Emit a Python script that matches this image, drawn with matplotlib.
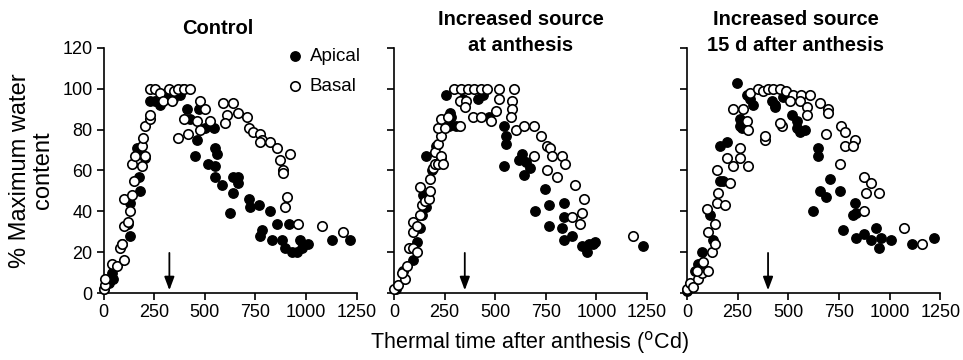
import matplotlib.pyplot as plt

plt.rcParams['font.family'] = ['Liberation Sans', 'DejaVu Sans']

# --- data (thermal time, % max water content) ---
ctrl_apical_x = [0, 25, 49, 40, 90, 132, 123, 132, 181, 173, 164, 189, 205, 230, 255, 280, 289, 320, 345, 354,
                 375, 390, 411, 428, 469, 502, 543, 461, 452, 551, 559, 518, 551, 551, 584, 641, 666, 666, 641, 625,
                 716, 724, 765, 822, 781, 773, 830, 855, 913, 880, 896, 929, 954, 971, 979, 1011, 1127, 1217]
ctrl_apical_y = [2, 5, 7, 10, 24, 28, 34, 44, 50, 57, 71, 68, 66, 94, 94, 92, 97, 97, 95, 99,
                 97, 100, 90, 85, 90, 81, 81, 75, 67, 71, 68, 63, 62, 57, 53, 57, 57, 54, 49, 39,
                 46, 42, 43, 40, 31, 28, 26, 34, 34, 26, 22, 20, 20, 26, 22, 24, 26, 26]
ctrl_basal_x = [0, 8, 8, 41, 66, 99, 82, 90, 99, 123, 99, 132, 140, 148, 140, 156, 189, 206, 189, 197,
                206, 230, 230, 230, 255, 280, 296, 321, 337, 350, 370, 395, 428, 370, 419, 395, 477, 502, 461, 477,
                526, 592, 641, 608, 600, 666, 707, 716, 740, 773, 781, 773, 822, 855, 871, 921, 888, 885, 904, 896,
                962, 1078, 1184]
ctrl_basal_y = [2, 4, 7, 14, 13, 16, 22, 24, 33, 35, 46, 40, 48, 55, 63, 67, 62, 67, 72, 76,
                82, 85, 87, 100, 100, 98, 94, 100, 94, 99, 100, 100, 100, 76, 78, 85, 94, 90, 84, 80,
                84, 93, 93, 87, 83, 88, 86, 81, 79, 78, 75, 74, 74, 71, 65, 68, 60, 59, 47, 42,
                34, 33, 30]

early_apical_x = [10, 95, 115, 128, 137, 145, 161, 161, 190, 210, 235, 259, 276, 283, 274, 307, 340, 413, 438, 471,
                  544, 552, 552, 544, 634, 617, 650, 642, 674, 748, 765, 699, 765, 838, 838, 830, 838, 879, 928, 952,
                  961, 985, 993, 1230]
early_apical_y = [2, 16, 25, 32, 38, 48, 42, 67, 60, 72, 66, 97, 88, 86, 82, 82, 95, 95, 97, 86,
                  82, 77, 73, 62, 68, 65, 64, 58, 61, 51, 43, 40, 33, 44, 37, 32, 26, 28, 23, 20,
                  24, 24, 25, 23]
early_basal_x = [0, 21, 46, 54, 38, 63, 76, 95, 112, 95, 95, 112, 128, 137, 128, 154, 171, 178, 178, 191,
                 202, 219, 202, 235, 243, 219, 235, 219, 235, 252, 326, 268, 299, 332, 364, 397, 430, 462, 520, 593,
                 324, 357, 350, 389, 430, 479, 503, 519, 585, 585, 577, 601, 642, 691, 724, 756, 773, 781, 830, 846,
                 691, 756, 805, 895, 936, 928, 879, 920, 1181]
early_basal_y = [2, 4, 11, 7, 10, 13, 22, 22, 20, 30, 35, 33, 38, 43, 52, 45, 46, 50, 56, 61,
                 63, 63, 69, 67, 63, 73, 77, 81, 85, 81, 82, 86, 100, 100, 100, 100, 100, 100, 100, 100,
                 94, 94, 91, 86, 86, 84, 89, 95, 94, 90, 86, 80, 82, 82, 77, 72, 71, 67, 67, 63,
                 67, 60, 57, 53, 46, 39, 37, 34, 28]

late_apical_x = [0, 39, 56, 72, 113, 130, 163, 163, 195, 179, 245, 261, 261, 269, 294, 327, 310, 434, 418, 435,
                 475, 516, 541, 545, 582, 557, 647, 647, 704, 655, 688, 753, 622, 827, 835, 819, 770, 835, 876, 908,
                 933, 957, 949, 1006, 1112, 1219]
late_apical_y = [1, 11, 14, 20, 38, 26, 55, 72, 74, 55, 103, 85, 82, 81, 97, 92, 95, 92, 94, 91,
                 96, 87, 84, 81, 80, 79, 71, 67, 56, 50, 47, 50, 40, 44, 39, 38, 31, 27, 29, 26,
                 32, 27, 22, 26, 24, 27]
late_basal_x = [0, 15, 31, 56, 72, 105, 48, 81, 122, 138, 105, 138, 97, 146, 187, 154, 212, 146, 228, 195,
                261, 302, 261, 228, 277, 294, 302, 310, 351, 377, 400, 425, 458, 490, 525, 565, 606, 508, 557, 590,
                655, 696, 696, 467, 590, 688, 386, 458, 384, 761, 778, 778, 827, 819, 753, 876, 908, 949, 884, 876,
                1072, 1162]
late_basal_y = [2, 5, 3, 7, 10, 11, 11, 15, 20, 24, 30, 34, 41, 44, 43, 49, 54, 60, 62, 66,
                66, 62, 71, 90, 90, 84, 80, 98, 100, 99, 100, 100, 100, 99, 97, 97, 97, 94, 94, 91,
                93, 90, 88, 82, 87, 78, 75, 83, 77, 82, 79, 72, 75, 72, 63, 57, 54, 49, 49, 40,
                32, 24]

titles = ['Control', 'Increased source\nat anthesis', 'Increased source\n15 d after anthesis']
title_x = [0.45, 0.5, 0.43]
title_y = [1.08, 1.063, 1.063]
arrow_x = [325, 350, 400]

panels = [
    (ctrl_apical_x, ctrl_apical_y, ctrl_basal_x, ctrl_basal_y),
    (early_apical_x, early_apical_y, early_basal_x, early_basal_y),
    (late_apical_x, late_apical_y, late_basal_x, late_basal_y),
]

fig = plt.figure(figsize=(9.63, 3.6), dpi=100)
lefts = [0.1075, 0.409, 0.7134]

for i, (ax_, ay_, bx_, by_) in enumerate(panels):
    ax = fig.add_axes([lefts[i], 0.186, 0.263, 0.681])
    ax.scatter(ax_, ay_, s=46, c='black', edgecolors='black', linewidths=1.0,
               clip_on=False, zorder=3, label='Apical')
    ax.scatter(bx_, by_, s=46, c='white', edgecolors='black', linewidths=1.2,
               clip_on=False, zorder=4, label='Basal')
    ax.set_xlim(0, 1250)
    ax.set_ylim(0, 120)
    ax.set_xticks(range(0, 1251, 250))
    ax.set_yticks(range(0, 121, 20))
    for s in ['top', 'right']:
        ax.spines[s].set_visible(False)
    for s in ['left', 'bottom']:
        ax.spines[s].set_linewidth(1.2)
    ax.tick_params(direction='out', length=5, width=1.2, labelsize=13, colors='black', pad=3)
    if i > 0:
        ax.tick_params(axis='y', labelleft=False)
    ax.annotate('', xy=(arrow_x[i], 0), xytext=(arrow_x[i], 21),
                arrowprops=dict(arrowstyle='-|>,head_width=0.3,head_length=0.8',
                                color='black', lw=1.3))
    ax.text(title_x[i], title_y[i], titles[i], transform=ax.transAxes, ha='center', va='center',
            fontsize=14.5, fontweight='bold', linespacing=1.45)
    if i == 0:
        ax.set_ylabel('% Maximum water\ncontent', fontsize=17, labelpad=6, linespacing=1.05)
        ax.legend(loc='upper left', bbox_to_anchor=(0.689, 1.03), frameon=False, fontsize=13.5,
                  handletextpad=0.3, labelspacing=0.7, borderaxespad=0, handlelength=1.0)

fig.text(0.55, 0.05, 'Thermal time after anthesis ($^{\\rm o}$Cd)', ha='center', va='center', fontsize=15.5)

fig.savefig('out.png', dpi=100)
